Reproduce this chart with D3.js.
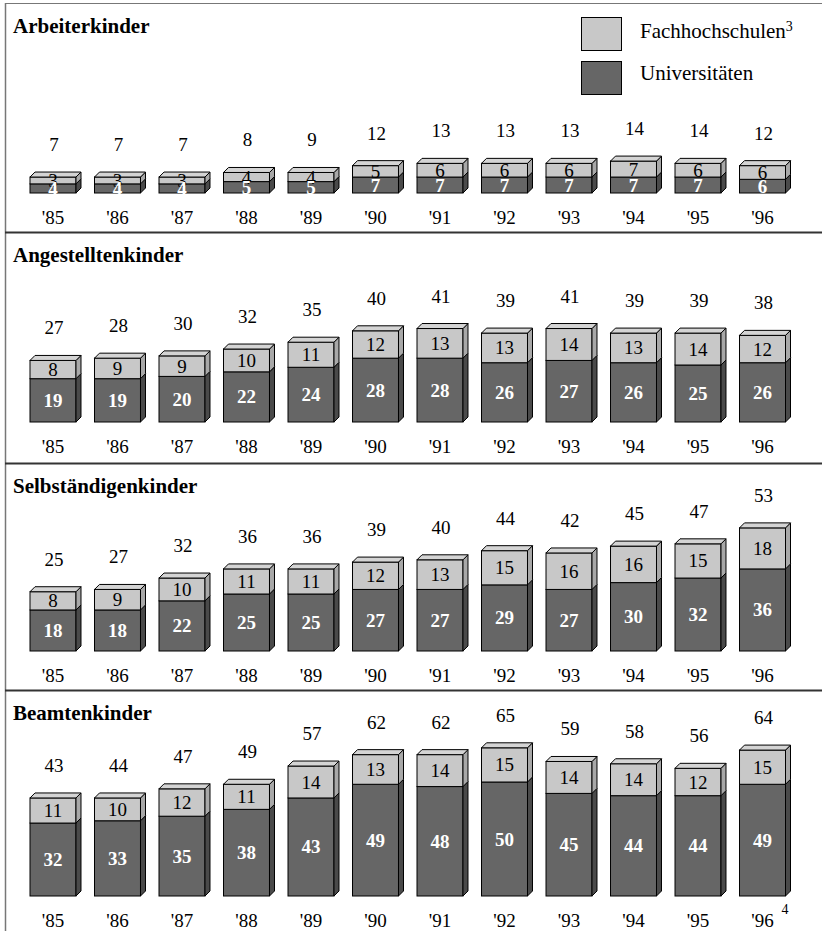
<!DOCTYPE html>
<html><head><meta charset="utf-8">
<script src="https://cdn.jsdelivr.net/npm/d3@7"></script>
<style>body{margin:0;background:#fff}svg{display:block}</style>
</head><body>
<svg id="c" width="822" height="931"></svg>
<script>
const years = ["'85","'86","'87","'88","'89","'90","'91","'92","'93","'94","'95","'96"];
const groups = ["Arbeiterkinder","Angestelltenkinder","Selbständigenkinder","Beamtenkinder"];
const fhArbeiter = [3,3,3,4,4,5,6,6,6,7,6,6];
const uniArbeiter = [4,4,4,5,5,7,7,7,7,7,7,6];
const totArbeiter = [7,7,7,8,9,12,13,13,13,14,14,12];
const fhAngest = [8,9,9,10,11,12,13,13,14,13,14,12];
const uniAngest = [19,19,20,22,24,28,28,26,27,26,25,26];
const totAngest = [27,28,30,32,35,40,41,39,41,39,39,38];
const fhSelb = [8,9,10,11,11,12,13,15,16,16,15,18];
const uniSelb = [18,18,22,25,25,27,27,29,27,30,32,36];
const totSelb = [25,27,32,36,36,39,40,44,42,45,47,53];
const fhBeamt = [11,10,12,11,14,13,14,15,14,14,12,15];
const uniBeamt = [32,33,35,38,43,49,48,50,45,44,44,49];
const totBeamt = [43,44,47,49,57,62,62,65,59,58,56,64];
const legendLabels = ["Fachhochschulen","Universitäten"];

const fhAll = [fhArbeiter,fhAngest,fhSelb,fhBeamt];
const uniAll = [uniArbeiter,uniAngest,uniSelb,uniBeamt];
const totAll = [totArbeiter,totAngest,totSelb,totBeamt];

const svg = d3.select("#c");
const FONT = "'Liberation Serif','Times New Roman',serif";
const panelTops = [3,232,463,690];
const baselines = [193,422,651,896];
const DX = 5, DY = 5;
const NUM = 19;
const C = {
  lightFront:"#c8c8c8", lightTop:"#d4d4d4", lightSide:"#a8a8a8",
  darkFront:"#666666", darkSide:"#4a4a4a"
};

const x = d3.scaleBand().domain(years).range([30,785.5]).paddingInner(0.287).paddingOuter(0);
const h = d3.scaleLinear().domain([0,10]).range([0,22.8]);

// frame
svg.append("line").attr("x1",5.5).attr("x2",5.5).attr("y1",3).attr("y2",931).attr("stroke","#777").attr("stroke-width",1.5);
panelTops.forEach((t,i)=>{
  svg.append("line").attr("x1",5).attr("x2",822).attr("y1",t+0.5).attr("y2",t+0.5)
    .attr("stroke", i===0?"#777":"#333").attr("stroke-width", i===0?1.2:2);
});

function drawSeg(g, x0, w, yTop, yBot, front, side, top){
  g.append("rect").attr("x",x0).attr("y",yTop).attr("width",w).attr("height",yBot-yTop)
    .attr("fill",front).attr("stroke","#000").attr("stroke-width",1);
  g.append("path").attr("d",`M${x0+w},${yTop}L${x0+w+DX},${yTop-DY}L${x0+w+DX},${yBot-DY}L${x0+w},${yBot}Z`)
    .attr("fill",side).attr("stroke","#000").attr("stroke-width",1).attr("stroke-linejoin","round");
  if(top){
    g.append("path").attr("d",`M${x0},${yTop}L${x0+DX},${yTop-DY}L${x0+w+DX},${yTop-DY}L${x0+w},${yTop}Z`)
      .attr("fill",top).attr("stroke","#000").attr("stroke-width",1).attr("stroke-linejoin","round");
  }
}

groups.forEach((name,gi)=>{
  const g = svg.append("g");
  const top = panelTops[gi], base = baselines[gi];
  g.append("text").attr("x",13).attr("y",top+30).text(name)
    .attr("font-family",FONT).attr("font-weight","bold").attr("font-size",21);
  years.forEach((yr,i)=>{
    const x0 = x(yr), w = x.bandwidth();
    const uni = uniAll[gi][i], fh = fhAll[gi][i], tot = totAll[gi][i];
    const yU = base - h(uni), yF = yU - h(fh);
    drawSeg(g, x0, w, yU, base, C.darkFront, C.darkSide, null);
    drawSeg(g, x0, w, yF, yU, C.lightFront, C.lightSide, C.lightTop);
    const cx = x0 + w/2;
    g.append("text").attr("x",cx).attr("y",(yF+yU)/2+6.5).attr("text-anchor","middle")
      .attr("font-family",FONT).attr("font-size",NUM).attr("fill","#000").text(fh);
    g.append("text").attr("x",cx).attr("y",(yU+base)/2+6.5).attr("text-anchor","middle")
      .attr("font-family",FONT).attr("font-size",NUM).attr("font-weight","bold").attr("fill","#fff").text(uni);
    g.append("text").attr("x",cx+1).attr("y",yF-26).attr("text-anchor","middle")
      .attr("font-family",FONT).attr("font-size",NUM).attr("fill","#000").text(tot);
    g.append("text").attr("x",cx).attr("y",base+31).attr("text-anchor","middle")
      .attr("font-family",FONT).attr("font-size",NUM).attr("fill","#000").text(yr);
    if(gi===3 && i===years.length-1){
      g.append("text").attr("x",cx+19).attr("y",base+18).attr("font-family",FONT).attr("font-size",14).text("4");
    }
  });
});

// legend
const lg = svg.append("g");
[[C.lightFront,17],[C.darkFront,61]].forEach(([f,y])=>{
  lg.append("rect").attr("x",581.5).attr("y",y+0.5).attr("width",40).attr("height",33)
    .attr("fill",f).attr("stroke","#000").attr("stroke-width",1);
});
const t1 = lg.append("text").attr("x",640).attr("y",38).attr("font-family",FONT).attr("font-size",21);
t1.append("tspan").text(legendLabels[0]);
t1.append("tspan").attr("dy",-7).attr("font-size",14).text("3");
lg.append("text").attr("x",640).attr("y",80).attr("font-family",FONT).attr("font-size",21).text(legendLabels[1]);
</script>
</body></html>
